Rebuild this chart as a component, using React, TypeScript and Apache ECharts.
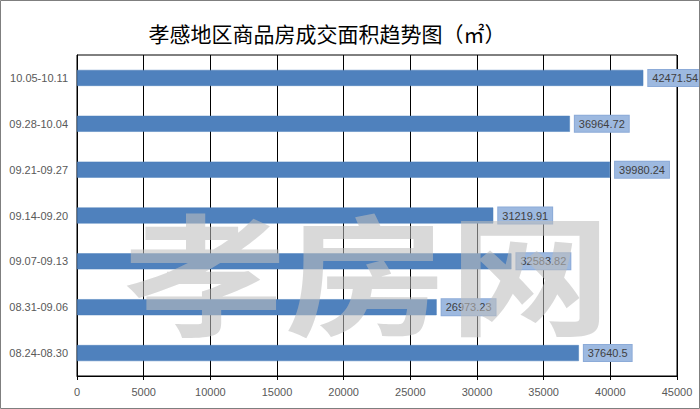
import React, { useEffect, useRef } from "react";
import * as echarts from "echarts";

const categories = [
  "08.24-08.30",
  "08.31-09.06",
  "09.07-09.13",
  "09.14-09.20",
  "09.21-09.27",
  "09.28-10.04",
  "10.05-10.11",
];
const values = [37640.5, 26973.23, 32583.82, 31219.91, 39980.24, 36964.72, 42471.54];
const xTicks = [0, 5000, 10000, 15000, 20000, 25000, 30000, 35000, 40000, 45000];
const titleText = "孝感地区商品房成交面积趋势图（㎡）";
const watermarkChars = ["孝", "房", "网"];

export default function App() {
  const ref = useRef<HTMLDivElement>(null);
  useEffect(() => {
    document.body.style.margin = "0";
    if (!ref.current) return;
    const chart = echarts.init(ref.current, null, { renderer: "svg" });
    const wmX = [205, 366, 530];
    chart.setOption({
      animation: false,
      backgroundColor: "#ffffff",
      title: {
        text: titleText,
        left: 322,
        top: 17,
        textAlign: "center",
        textStyle: {
          fontFamily: "Noto Sans CJK SC",
          fontSize: 21,
          fontWeight: "normal",
          color: "#000000",
        },
      },
      grid: {
        left: 77,
        right: 23,
        top: 55,
        bottom: 33,
        show: true,
        borderColor: "#000000",
        borderWidth: 1,
        containLabel: false,
      },
      xAxis: {
        type: "value",
        min: xTicks[0],
        max: xTicks[xTicks.length - 1],
        interval: 5000,
        axisLine: { show: true, lineStyle: { color: "#000000", width: 1 } },
        axisTick: { show: true, length: 4, lineStyle: { color: "#000000" } },
        splitLine: { show: true, lineStyle: { color: "#000000", width: 1 } },
        axisLabel: {
          color: "#595959",
          fontSize: 11,
          fontFamily: "Liberation Sans",
          margin: 10,
          formatter: (v: number) => String(v),
        },
      },
      yAxis: {
        type: "category",
        data: categories,
        axisLine: { show: true, lineStyle: { color: "#000000", width: 1 } },
        axisTick: { show: false },
        axisLabel: {
          color: "#595959",
          fontSize: 11,
          fontFamily: "Liberation Sans",
          margin: 9,
        },
      },
      series: [
        {
          type: "bar",
          data: values,
          barWidth: 16,
          itemStyle: { color: "#4F81BD", borderColor: "#4A7EBB", borderWidth: 0.5 },
          label: {
            show: true,
            position: "right",
            distance: 5,
            color: "#404040",
            fontSize: 11,
            fontFamily: "Liberation Sans",
            backgroundColor: "#9DB9E0",
            borderColor: "#8CABD8",
            borderWidth: 1,
            padding: [3, 4, 2, 4],
          },
        },
      ],
      graphic: [
        {
          type: "rect",
          z: 100,
          shape: { x: 0.5, y: 0.5, width: 699, height: 408 },
          style: { fill: "none", stroke: "#7F7F7F", lineWidth: 1 },
          silent: true,
        },
        ...watermarkChars.map((ch, i) => ({
          type: "text",
          z: 100,
          silent: true,
          x: wmX[i],
          y: 268,
          scaleX: 1.1,
          scaleY: 0.88,
          style: {
            text: ch,
            fontSize: 148,
            fontWeight: "bold",
            fontFamily: "Noto Sans CJK SC",
            fill: "rgb(190,190,190)",
            opacity: 0.58,
            align: "center",
            verticalAlign: "middle",
          },
        })),
      ],
    });
    return () => chart.dispose();
  }, []);
  return <div ref={ref} style={{ width: 700, height: 409 }} />;
}
